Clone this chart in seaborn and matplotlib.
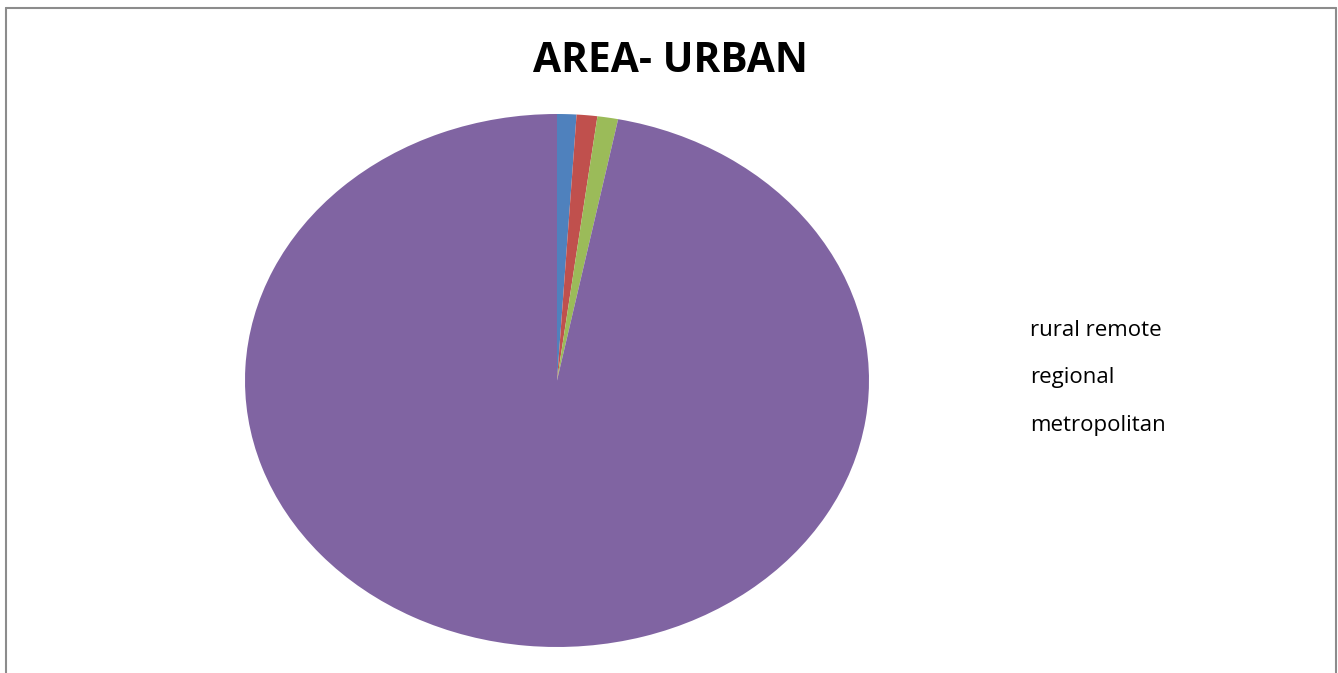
import matplotlib
matplotlib.use("Agg")
import matplotlib.pyplot as plt
import seaborn as sns
from matplotlib.lines import Line2D

sns.set_theme(style="white")
plt.rcParams['font.family'] = ['Open Sans', 'DejaVu Sans']

# Data
categories = ["", "rural remote", "regional", "metropolitan"]
values = [1.0, 1.07, 1.07, 96.86]
colors = ["#4F81BD", "#C0504D", "#9BBB59", "#8064A2"]
legend_labels = ["rural remote", "regional", "metropolitan"]
title = "AREA- URBAN"

W, H = 1338, 673
fig = plt.figure(figsize=(W / 100, H / 100), dpi=100)
fig.patch.set_facecolor("white")

# chart frame (outer border)
fx = lambda px: px / W
fy = lambda py: 1 - py / H
for (x0, y0, x1, y1) in [(5.5, 7.5, 1336, 7.5), (5.5, 7.5, 5.5, 673), (1335.5, 7.5, 1335.5, 673)]:
    fig.add_artist(Line2D([fx(x0), fx(x1)], [fy(y0), fy(y1)], color="#8c8c8c", lw=1.5))

# pie axes (elliptical)
ax = fig.add_axes([fx(245), fy(647), (869 - 245) / W, (647 - 114) / H])
ax.pie(values, colors=colors, startangle=90, counterclock=False, radius=1,
       wedgeprops=dict(linewidth=0))
ax.set_aspect("auto")
ax.set_xlim(-1, 1)
ax.set_ylim(-1, 1)
ax.axis("off")

fig.text(fx(670), fy(61), title, ha="center", va="center", fontsize=29.3,
         fontweight="bold", color="black")

for lab, py in zip(legend_labels, [331, 378, 425]):
    fig.text(fx(1030), fy(py), lab, ha="left", va="center", fontsize=16, color="black")

fig.savefig("out.png", dpi=100, facecolor="white")
